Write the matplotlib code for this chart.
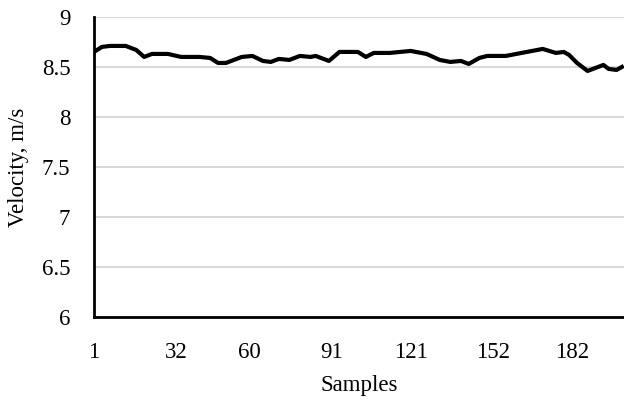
import matplotlib.pyplot as plt

# velocity readings (sample index, m/s)
samples = [1, 4, 7, 13, 17, 20, 23, 29, 34, 41, 45, 48, 51, 57, 61, 65, 68,
           71, 75, 79, 83, 85, 90, 94, 101, 104, 107, 113, 121, 127, 132, 136,
           140, 143, 147, 150, 157, 161, 165, 171, 176, 179, 181, 184, 188,
           194, 196, 199, 201]
velocity = [8.65, 8.70, 8.71, 8.71, 8.67, 8.60, 8.63, 8.63, 8.60, 8.60, 8.59,
            8.54, 8.54, 8.60, 8.61, 8.56, 8.55, 8.58, 8.57, 8.61, 8.60, 8.61,
            8.56, 8.65, 8.65, 8.60, 8.64, 8.64, 8.66, 8.63, 8.57, 8.55, 8.56,
            8.53, 8.59, 8.61, 8.61, 8.63, 8.65, 8.68, 8.64, 8.65, 8.62, 8.54,
            8.46, 8.52, 8.48, 8.47, 8.50]

x_ticks = [1, 32, 60, 91, 121, 152, 182]
y_ticks = [6, 6.5, 7, 7.5, 8, 8.5, 9]

plt.rcParams['font.family'] = ['Liberation Serif', 'DejaVu Serif']

fig = plt.figure(figsize=(6.24, 4.03), dpi=100)
ax = fig.add_axes([0.1506, 0.2134, 0.8494, 0.7446])

ax.plot(samples, velocity, color='black', linewidth=3.0, solid_joinstyle='round')

ax.set_xlim(1, 201.8)
ax.set_ylim(6, 9)
ax.set_xticks(x_ticks)
ax.set_yticks(y_ticks)
ax.set_yticklabels(['6', '6.5', '7', '7.5', '8', '8.5', '9'])
ax.grid(axis='y', color='#d9d9d9', linewidth=1.5)
ax.set_axisbelow(True)

for side in ['top', 'right']:
    ax.spines[side].set_visible(False)
for side in ['left', 'bottom']:
    ax.spines[side].set_linewidth(2)
    ax.spines[side].set_color('black')

ax.tick_params(length=0, labelsize=16.5, colors='black')
ax.tick_params(axis='x', pad=18)
ax.tick_params(axis='y', pad=17)
ax.set_xlabel('Samples', fontsize=16.5, labelpad=9)
ax.set_ylabel('Velocity, m/s', fontsize=16.5, labelpad=9)

fig.savefig('out.png', dpi=100)
